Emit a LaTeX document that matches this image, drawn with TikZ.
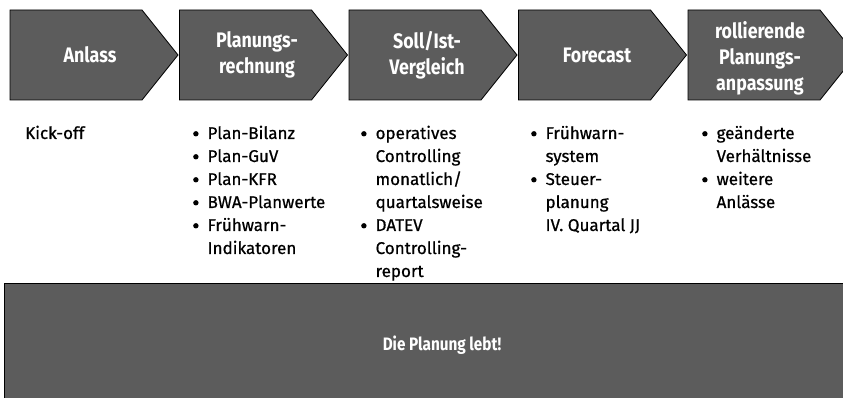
\documentclass[tikz,border=0pt]{standalone}
\usepackage{fontspec}
\setmainfont{Fira Sans}[FakeBold=0.7]
\newfontfamily\bodyfont[FakeBold=0.7]{Fira Sans}
\newfontfamily\headfont[FakeStretch=0.85]{Fira Sans}
\definecolor{boxgray}{gray}{0.36}
\newcommand{\bul}{\raisebox{0.28ex}{\tikz\fill (0,0) circle (2.7pt);}}
\begin{document}
\begin{tikzpicture}[x=1pt,y=-1pt,
  head/.style={text=white,font=\headfont\bfseries\fontsize{21}{26}\selectfont,align=center,inner sep=0pt},
  body/.style={font=\bodyfont\fontsize{17}{23}\selectfont,anchor=base west,inner sep=0pt}]
\useasboundingbox (0,0) rectangle (843,398);
\begin{scope}
\clip (0,0) rectangle (843,398);
\foreach \i/\xl in {1/10,2/179.5,3/349,4/518.5,5/688}{
  \fill[boxgray] (\xl,10) -- (\xl+132,10) -- (\xl+168,55) -- (\xl+132,100) -- (\xl,100) -- cycle;
  \draw[black,line width=0.8pt] (\xl,10) -- (\xl+132,10) -- (\xl+168,55) -- (\xl+132,100) -- (\xl,100) -- cycle;
}
\fill[boxgray] (4,283) rectangle (845,400);
\draw[black,line width=0.8pt] (4,400) -- (4,283) -- (845,283);
\end{scope}
\node[head] (h1) at (90,55) {Anlass};
\node[head] (h2) at (257,55) {Planungs-\\rechnung};
\node[head] (h3) at (427,55) {Soll/Ist-\\Vergleich};
\node[head] (h4) at (597,55) {Forecast};
\node[head] (h5) at (760,58) {rollierende\\Planungs-\\anpassung};
\node[head,font=\headfont\bfseries\fontsize{18}{22}\selectfont] (bar) at (442,345) {Die Planung lebt!};
\node[body] (c1) at (25,139) {Kick-off};
\node[body] (c2) at (193,139) {\begin{tabular}[t]{@{}l@{\hspace{9pt}}l@{}}
\bul & Plan-Bilanz\\ \bul & Plan-GuV\\ \bul & Plan-KFR\\ \bul & BWA-Planwerte\\ \bul & Frühwarn-\\ & Indikatoren\end{tabular}};
\node[body] (c3) at (361,139) {\begin{tabular}[t]{@{}l@{\hspace{9pt}}l@{}}
\bul & operatives\\ & Controlling\\ & monatlich/\\ & quartalsweise\\ \bul & DATEV\\ & Controlling-\\ & report\end{tabular}};
\node[body] (c4) at (531,139) {\begin{tabular}[t]{@{}l@{\hspace{9pt}}l@{}}
\bul & Frühwarn-\\ & system\\ \bul & Steuer-\\ & planung\\ & IV. Quartal JJ\end{tabular}};
\node[body] (c5) at (702,139) {\begin{tabular}[t]{@{}l@{\hspace{9pt}}l@{}}
\bul & geänderte\\ & Verhältnisse\\ \bul & weitere\\ & Anlässe\end{tabular}};
\end{tikzpicture}
\end{document}
